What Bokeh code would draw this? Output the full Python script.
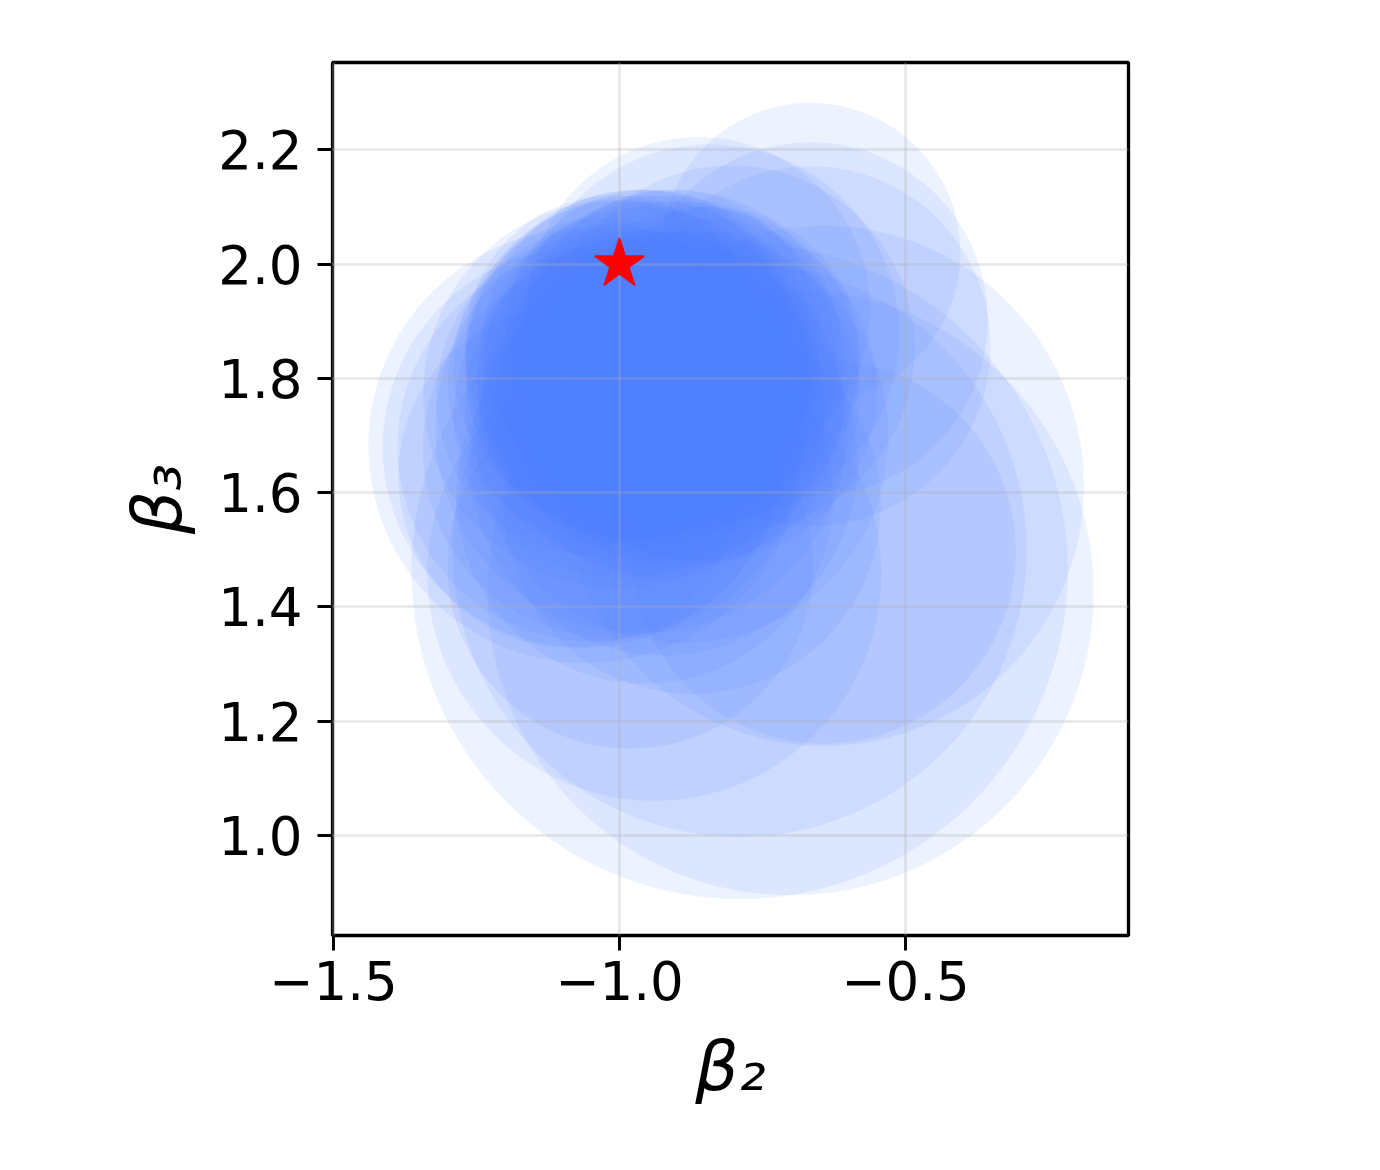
from bokeh.plotting import figure
from bokeh.models import Range1d, FixedTicker
from bokeh.embed import file_html
from bokeh.resources import INLINE

# Estimated confidence-region circles (beta2 centre, beta3 centre, radius)
center_b2 = [
    -0.666, -0.666, -0.666, -0.643, -0.701, -0.643, -0.790, -0.790, -0.939, -0.981,
    -0.873, -0.956, -0.923, -1.087, -1.014, -0.890, -1.059, -1.064, -1.048, -1.003,
    -0.962, -0.862, -0.841, -0.804,
    -0.96, -0.90, -1.02, -0.87, -0.97, -1.03, -0.94, -0.86, -0.96, -0.95,
    -1.00, -0.91, -0.99, -0.85, -0.95, -0.93, -1.04, -0.89, -0.97, -0.92,
    -0.98, -0.90, -1.01, -0.94, -0.84, -1.00,
]
center_b3 = [
    2.020, 1.903, 1.856, 1.612, 1.426, 1.497, 1.500, 1.463, 1.458, 1.472,
    1.578, 1.596, 1.655, 1.629, 1.676, 1.697, 1.682, 1.679, 1.680, 1.773,
    1.714, 1.922, 1.879, 1.852,
    1.81, 1.83, 1.79, 1.77, 1.86, 1.82, 1.76, 1.82, 1.82, 1.80,
    1.84, 1.87, 1.76, 1.78, 1.88, 1.74, 1.77, 1.75, 1.82, 1.80,
    1.79, 1.84, 1.86, 1.83, 1.84, 1.74,
]
radius = [
    0.262, 0.310, 0.315, 0.455, 0.530, 0.336, 0.502, 0.574, 0.397, 0.320,
    0.330, 0.330, 0.340, 0.300, 0.330, 0.360, 0.380, 0.350, 0.340, 0.340,
    0.360, 0.300, 0.330, 0.320,
    0.29, 0.28, 0.28, 0.29, 0.27, 0.26, 0.30, 0.28, 0.31, 0.26,
    0.27, 0.26, 0.28, 0.30, 0.25, 0.29, 0.28, 0.28, 0.30, 0.32,
    0.27, 0.29, 0.26, 0.28, 0.26, 0.29,
]

true_b2 = [-1.0]
true_b3 = [2.0]

x_ticks = [-1.5, -1.0, -0.5]
x_tick_labels = ["\u22121.5", "\u22121.0", "\u22120.5"]
y_ticks = [1.0, 1.2, 1.4, 1.6, 1.8, 2.0, 2.2]
y_tick_labels = ["1.0", "1.2", "1.4", "1.6", "1.8", "2.0", "2.2"]

p = figure(
    frame_width=796, frame_height=873,
    min_border_left=332, min_border_right=244,
    min_border_top=62, min_border_bottom=227,
    x_range=Range1d(-1.5017, -0.1101), y_range=Range1d(0.8249, 2.3528),
    output_backend="svg", toolbar_location=None,
    background_fill_color="white", border_fill_color="white",
)

p.circle(x=center_b2, y=center_b3, radius=radius,
         fill_color="#4d80ff", fill_alpha=0.1, line_color=None)

p.scatter(x=true_b2, y=true_b3, marker="star", size=52,
          fill_color="red", line_color="red", line_width=1.5, level="overlay")

# grid
for g in (p.xgrid, p.ygrid):
    g.grid_line_color = "#b0b0b0"
    g.grid_line_alpha = 0.3
    g.grid_line_width = 2.5
    g.level = "guide"
p.xgrid.ticker = FixedTicker(ticks=x_ticks)
p.ygrid.ticker = FixedTicker(ticks=y_ticks)

p.outline_line_color = "black"
p.outline_line_width = 3.3
p.outline_line_alpha = 1.0

p.xaxis.ticker = FixedTicker(ticks=x_ticks)
p.yaxis.ticker = FixedTicker(ticks=y_ticks)
p.xaxis.major_label_overrides = dict(zip(x_ticks, x_tick_labels))
p.yaxis.major_label_overrides = dict(zip(y_ticks, y_tick_labels))

for ax in (p.xaxis, p.yaxis):
    ax.axis_line_color = None
    ax.major_tick_line_color = "black"
    ax.major_tick_line_width = 3
    ax.major_tick_out = 15
    ax.major_tick_in = 0
    ax.minor_tick_line_color = None
    ax.major_label_text_font = "DejaVu Sans"
    ax.major_label_text_font_size = "53px"
    ax.major_label_text_color = "black"
    ax.axis_label_text_font = "DejaVu Sans"
    ax.axis_label_text_font_size = "68px"
    ax.axis_label_text_font_style = "italic"
    ax.axis_label_text_color = "black"

p.xaxis.axis_label = "\u03b2\u2082"
p.yaxis.axis_label = "\u03b2\u2083"
p.xaxis.major_label_standoff = 10
p.yaxis.major_label_standoff = 15
p.xaxis.axis_label_standoff = 24
p.yaxis.axis_label_standoff = 18

open("out.html", "w").write(file_html(p, INLINE))
